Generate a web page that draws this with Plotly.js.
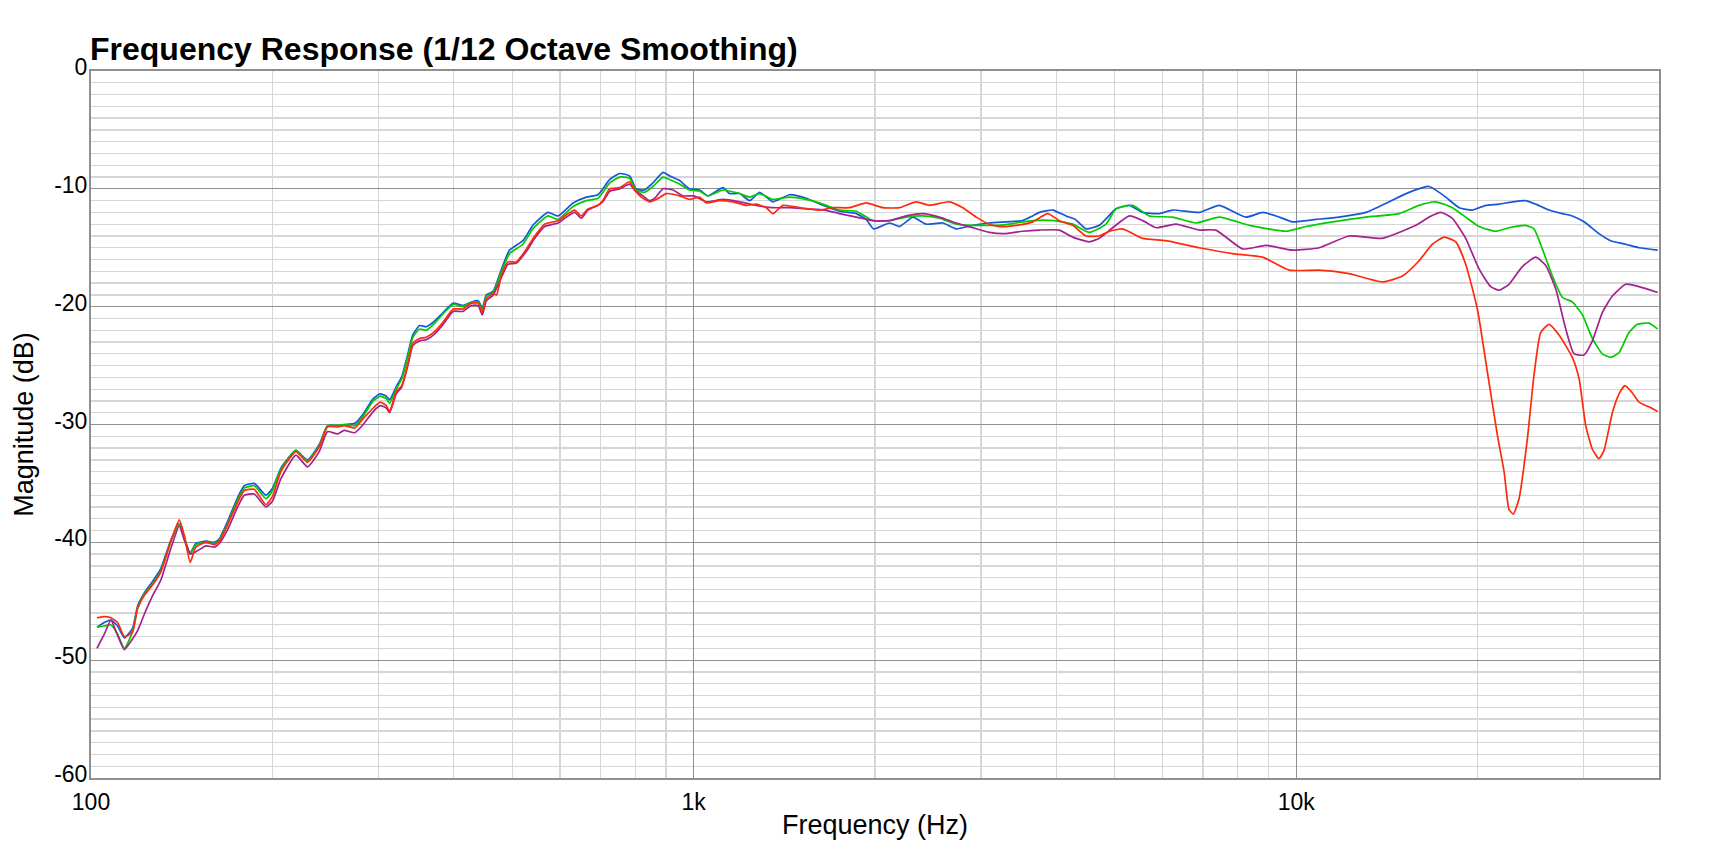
<!DOCTYPE html>
<html>
<head>
<meta charset="utf-8">
<script src="https://cdn.plot.ly/plotly-3.0.1.min.js"></script>
<style>html,body{margin:0;padding:0;background:#fff;}#chart{width:1724px;height:856px;}</style>
</head>
<body>
<div id="chart"></div>
<script>
// Series data: [frequency Hz, magnitude dB]
const seriesBlue = [[102.3,-47.2],[105.2,-46.8],[107.9,-46.6],[110.7,-47.1],[113.6,-48.1],[117.2,-47.3],[119.5,-45.4],[122.6,-44.3],[126.6,-43.3],[130.6,-42.2],[135.7,-39.8],[140.1,-38.4],[142.8,-39.6],[146.1,-40.9],[149.3,-40.1],[155.1,-39.9],[160.2,-40.0],[163.3,-39.7],[168.6,-38.2],[175.1,-36.2],[179.6,-35.2],[186.6,-35.0],[195.1,-36.0],[200.1,-35.4],[206.6,-33.7],[218.8,-32.2],[228.7,-33.0],[239.2,-31.7],[246.9,-30.1],[256.5,-30.1],[263.1,-30.0],[274,-29.9],[283,-29.1],[294,-27.8],[302,-27.4],[309,-27.6],[313,-27.9],[321,-26.8],[328,-25.9],[336,-23.9],[342,-22.4],[351,-21.6],[360,-21.7],[372,-21.2],[384,-20.5],[399,-19.7],[414,-19.9],[428,-19.6],[439,-19.5],[446,-20.1],[453,-19.0],[465,-18.7],[480,-16.8],[495,-15.2],[521,-14.4],[541,-13.1],[573,-12.0],[596,-12.3],[631,-11.2],[664,-10.7],[694,-10.5],[726,-9.2],[754,-8.7],[783,-8.9],[803,-10.0],[828,-10.1],[856,-9.5],[890,-8.6],[912,-8.9],[948,-9.3],[985,-10.0],[1023,-10.1],[1056,-10.6],[1119,-9.9],[1147,-10.4],[1192,-10.4],[1239,-11.0],[1287,-10.3],[1354,-11.1],[1443,-10.5],[1538,-10.8],[1639,-11.4],[1746,-11.9],[1862,-12.1],[1934,-12.6],[1990,-13.4],[2114,-12.9],[2196,-13.2],[2253,-12.8],[2311,-12.4],[2432,-13.0],[2591,-12.9],[2727,-13.4],[2906,-13.1],[3097,-12.9],[3301,-12.8],[3517,-12.7],[3653,-12.3],[3749,-12.0],[3944,-11.8],[4150,-12.3],[4300,-12.6],[4479,-13.4],[4713,-13.1],[5023,-11.7],[5286,-11.4],[5563,-12.0],[5928,-12.1],[6236,-11.8],[6904,-12.0],[7451,-11.4],[8252,-12.4],[8796,-12.0],[9372,-12.4],[9860,-12.8],[10780,-12.6],[11782,-12.4],[13051,-12.0],[14264,-11.1],[15393,-10.3],[16618,-9.8],[17600,-10.6],[18640,-11.6],[19612,-11.8],[20640,-11.4],[21710,-11.3],[22850,-11.1],[24040,-11.0],[24970,-11.3],[26270,-11.8],[27640,-12.1],[28720,-12.3],[30040,-12.8],[31800,-13.8],[33260,-14.4],[35220,-14.7],[37060,-15.0],[39800,-15.2]];

const seriesGreen = [[102.3,-47.2],[105.2,-47.1],[107.9,-47.0],[110.7,-47.8],[113.6,-49.0],[117.2,-47.6],[119.5,-45.6],[122.6,-44.4],[126.6,-43.5],[130.6,-42.4],[135.7,-39.9],[140.1,-38.4],[142.8,-39.6],[146.1,-41.0],[149.3,-40.2],[155.1,-40.0],[160.2,-40.1],[163.3,-39.8],[168.6,-38.4],[175.1,-36.4],[179.6,-35.4],[186.6,-35.2],[195.1,-36.3],[200.1,-35.6],[206.6,-33.8],[218.8,-32.2],[228.7,-33.1],[239.2,-31.8],[246.9,-30.1],[256.5,-30.1],[263.1,-30.0],[274,-30.1],[283,-29.3],[294,-28.0],[302,-27.6],[309,-27.8],[313,-28.2],[321,-27.0],[328,-26.1],[336,-24.1],[342,-22.6],[351,-21.9],[360,-22.0],[372,-21.4],[384,-20.6],[399,-19.8],[414,-20.0],[428,-19.6],[439,-19.6],[446,-20.3],[453,-19.1],[465,-18.8],[480,-17.0],[495,-15.5],[521,-14.7],[541,-13.4],[573,-12.3],[596,-12.6],[631,-11.5],[664,-11.0],[694,-10.8],[726,-9.5],[754,-9.0],[783,-9.1],[803,-10.1],[828,-10.3],[856,-9.8],[890,-9.0],[912,-9.2],[948,-9.6],[985,-10.1],[1023,-10.2],[1056,-10.6],[1119,-10.1],[1192,-10.4],[1239,-10.7],[1287,-10.4],[1354,-10.9],[1443,-10.7],[1538,-10.9],[1639,-11.3],[1746,-11.8],[1862,-11.9],[1984,-12.7],[2114,-12.7],[2253,-12.4],[2401,-12.3],[2559,-12.5],[2727,-13.0],[2906,-13.1],[3097,-13.1],[3218,-13.1],[3429,-12.9],[3653,-12.7],[3964,-12.7],[4256,-13.0],[4536,-13.7],[4834,-13.0],[5023,-11.7],[5353,-11.4],[5705,-12.3],[6236,-12.4],[6817,-12.9],[7451,-12.4],[8360,-13.1],[9614,-13.6],[10380,-13.2],[11490,-12.8],[13051,-12.4],[14820,-12.1],[15995,-11.4],[17040,-11.1],[18160,-11.6],[19110,-12.4],[20110,-13.2],[21430,-13.6],[22550,-13.3],[24040,-13.1],[24810,-13.4],[25610,-15.1],[26620,-17.4],[27640,-19.2],[28720,-19.6],[29850,-20.7],[31010,-22.7],[32210,-24.0],[33260,-24.3],[34340,-23.9],[35660,-22.2],[36810,-21.5],[38480,-21.4],[39800,-21.9]];

const seriesPurple = [[102.3,-49.0],[105.2,-47.8],[107.9,-46.6],[110.7,-47.9],[113.6,-49.1],[117.2,-48.2],[119.5,-47.5],[122.6,-46.1],[126.6,-44.5],[130.6,-43.2],[135.7,-40.5],[140.1,-38.6],[142.8,-39.8],[146.1,-41.0],[149.3,-40.8],[155.1,-40.3],[160.2,-40.4],[163.3,-40.1],[168.6,-38.9],[175.1,-37.0],[179.6,-36.0],[186.6,-35.9],[195.1,-37.0],[200.1,-36.5],[206.6,-34.6],[218.8,-32.6],[228.7,-33.6],[239.2,-32.3],[246.9,-30.6],[256.5,-30.8],[263.1,-30.5],[274,-30.7],[283,-30.0],[294,-28.9],[302,-28.4],[309,-28.6],[313,-29.0],[321,-27.4],[328,-26.8],[336,-24.9],[342,-23.3],[351,-22.9],[360,-22.8],[372,-22.3],[384,-21.5],[399,-20.4],[414,-20.4],[428,-19.9],[439,-19.9],[446,-20.7],[453,-19.5],[465,-19.0],[480,-17.5],[492,-16.4],[508,-16.3],[528,-15.3],[545,-14.2],[566,-13.2],[596,-12.9],[611,-12.5],[635,-12.0],[651,-12.5],[668,-11.8],[694,-11.4],[707,-11.1],[726,-10.2],[754,-10.0],[783,-9.6],[798,-10.1],[819,-10.5],[845,-11.0],[862,-10.8],[890,-10.0],[924,-10.1],[960,-10.6],[1000,-10.6],[1050,-11.1],[1119,-10.9],[1192,-11.1],[1271,-11.4],[1354,-11.6],[1443,-11.6],[1538,-11.7],[1650,-11.8],[1746,-12.1],[1862,-12.4],[1984,-12.7],[2114,-12.7],[2253,-12.3],[2401,-12.1],[2559,-12.4],[2727,-12.9],[2906,-13.3],[3097,-13.7],[3301,-13.8],[3517,-13.6],[3749,-13.5],[4046,-13.5],[4256,-14.1],[4536,-14.5],[4713,-14.2],[4960,-13.3],[5286,-12.3],[5563,-12.7],[5853,-13.3],[6318,-13.0],[6904,-13.5],[7357,-13.5],[8147,-15.1],[8907,-14.8],[9860,-15.2],[10916,-15.0],[12240,-14.0],[13900,-14.2],[15800,-13.1],[16618,-12.4],[17380,-12.0],[18160,-12.5],[19110,-14.2],[20110,-16.8],[21030,-18.3],[21710,-18.6],[22550,-18.1],[23730,-16.6],[24970,-15.8],[25950,-16.5],[26960,-18.5],[28010,-21.9],[28910,-24.0],[30040,-24.1],[31010,-22.9],[32210,-20.5],[33470,-19.1],[35220,-18.1],[37060,-18.3],[39800,-18.8]];

const seriesRed = [[102.3,-46.4],[105.2,-46.3],[107.9,-46.4],[110.7,-46.8],[113.6,-48.0],[117.2,-47.6],[119.5,-45.6],[122.6,-44.5],[126.6,-43.6],[130.6,-42.5],[135.7,-39.9],[140.1,-38.1],[142.8,-39.4],[146.1,-41.7],[149.3,-40.4],[155.1,-40.0],[160.2,-40.2],[163.3,-39.9],[168.6,-38.5],[175.1,-36.6],[179.6,-35.6],[186.6,-35.5],[195.1,-36.8],[200.1,-36.1],[206.6,-34.0],[218.8,-32.3],[228.7,-33.2],[239.2,-31.9],[246.9,-30.2],[256.5,-30.2],[263.1,-30.1],[274,-30.3],[283,-29.5],[294,-28.6],[302,-28.1],[309,-28.4],[313,-28.9],[321,-27.2],[328,-26.7],[336,-24.7],[342,-23.1],[351,-22.7],[360,-22.6],[372,-22.1],[384,-21.3],[399,-20.2],[414,-20.2],[428,-19.7],[439,-19.7],[446,-20.5],[453,-19.3],[465,-18.9],[471,-19.0],[480,-17.3],[492,-16.2],[508,-16.2],[528,-15.1],[545,-14.0],[566,-13.0],[596,-12.7],[611,-12.3],[635,-11.8],[651,-12.3],[668,-11.7],[694,-11.4],[707,-11.0],[726,-10.0],[754,-9.9],[783,-9.4],[798,-10.1],[819,-10.7],[845,-11.1],[867,-10.9],[901,-10.4],[948,-10.6],[985,-10.9],[1023,-10.7],[1050,-11.2],[1104,-11.0],[1162,-11.1],[1223,-11.4],[1271,-11.3],[1320,-11.6],[1354,-12.1],[1407,-11.4],[1499,-11.6],[1618,-11.8],[1702,-11.6],[1814,-11.6],[1934,-11.2],[2061,-11.6],[2196,-11.6],[2341,-11.1],[2463,-11.4],[2658,-11.1],[2797,-11.6],[2944,-12.4],[3097,-13.0],[3218,-13.2],[3429,-13.1],[3653,-12.8],[3869,-12.1],[4046,-12.7],[4256,-13.1],[4479,-14.0],[4713,-14.0],[4900,-13.6],[5152,-13.4],[5563,-14.2],[6080,-14.4],[6904,-15.0],[7841,-15.5],[8796,-15.8],[9737,-16.9],[10916,-16.9],[12240,-17.2],[13900,-17.9],[15006,-17.4],[15995,-16.1],[16830,-14.7],[17600,-14.1],[18400,-14.5],[19110,-16.4],[19980,-20.2],[20770,-25.6],[21570,-30.9],[22130,-34.0],[22550,-37.2],[22930,-37.6],[23430,-36.3],[24190,-31.2],[24810,-25.8],[25450,-22.2],[26270,-21.5],[27300,-22.4],[28720,-24.3],[29470,-26.1],[30230,-30.1],[31010,-32.1],[31800,-32.9],[32420,-32.2],[33470,-29.0],[34340,-27.4],[35120,-26.7],[36110,-27.3],[37060,-28.1],[38480,-28.5],[39800,-28.9]];

const seriesColors = ['#1656d8', '#00cc00', '#a3228f', '#ff2a0a'];
const xTickVals = [100, 1000, 10000];
const xTickText = ['100', '1k', '10k'];
const xMinorVals = [200,300,400,500,600,700,800,900,2000,3000,4000,5000,6000,7000,8000,9000,20000,30000];
const yTickVals = [0, -10, -20, -30, -40, -50, -60];
const yTickText = ['0', '-10', '-20', '-30', '-40', '-50', '-60'];
const freqMin = 100, freqMax = 40000;

const FONT = 'Liberation Sans, Arial, Helvetica, sans-serif';
const allSeries = [seriesBlue, seriesGreen, seriesPurple, seriesRed];
const traces = allSeries.map((s, i) => ({
  type: 'scatter', mode: 'lines',
  x: s.map(p => p[0]), y: s.map(p => p[1]),
  line: {color: seriesColors[i], width: 1.7, shape: 'spline', smoothing: 0.5},
  hoverinfo: 'skip', showlegend: false
}));

const layout = {
  width: 1724, height: 856,
  margin: {l: 91, r: 65, t: 71, b: 78},
  paper_bgcolor: '#ffffff', plot_bgcolor: '#ffffff',
  font: {family: FONT, color: '#000', size: 23},
  title: {
    text: '<b>Frequency Response (1/12 Octave Smoothing)</b>',
    font: {family: FONT, size: 32, color: '#000'},
    xref: 'container', x: 90/1724, xanchor: 'left',
    yref: 'container', y: 1 - 49/856, yanchor: 'middle'
  },
  xaxis: {
    type: 'log', range: [Math.log10(freqMin), Math.log10(freqMax)],
    tickmode: 'array', tickvals: xTickVals, ticktext: xTickText,
    ticks: '', showgrid: true, gridcolor: '#8f8f8f', gridwidth: 1.3,
    minor: {tickmode: 'array', tickvals: xMinorVals, showgrid: true, gridcolor: '#d6d6d6', gridwidth: 1.3, ticks: ''},
    showline: true, linecolor: '#8f8f8f', linewidth: 2, mirror: true,
    zeroline: false, tickfont: {family: FONT, size: 23, color: '#000'},
    ticklabelstandoff: 2,
    title: {text: 'Frequency (Hz)', font: {family: FONT, size: 27, color: '#000'}, standoff: 2},
    automargin: false, fixedrange: true
  },
  yaxis: {
    range: [-60, 0],
    tickmode: 'array', tickvals: yTickVals, ticktext: yTickText,
    ticks: '', showgrid: true, gridcolor: '#8f8f8f', gridwidth: 1.3,
    minor: {dtick: 1, showgrid: true, gridcolor: '#d6d6d6', gridwidth: 1.3, ticks: ''},
    showline: true, linecolor: '#8f8f8f', linewidth: 2, mirror: true,
    zeroline: false, tickfont: {family: FONT, size: 23, color: '#000'},
    ticklabelstandoff: -3, ticklabelshift: -4,
    title: {text: 'Magnitude (dB)', font: {family: FONT, size: 27, color: '#000'}, standoff: 13},
    automargin: false, fixedrange: true
  }
};

Plotly.newPlot('chart', traces, layout, {staticPlot: true, displayModeBar: false});
</script>
</body>
</html>
